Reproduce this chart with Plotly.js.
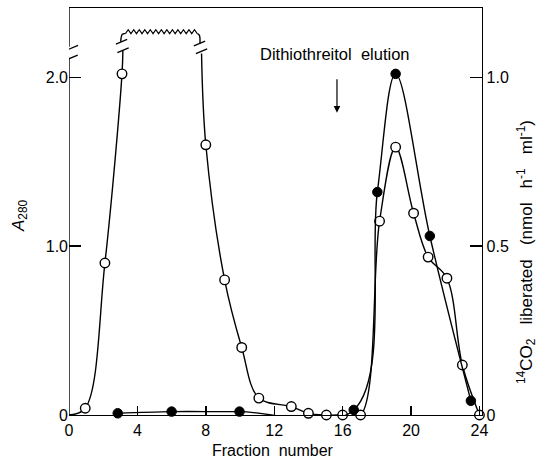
<!DOCTYPE html>
<html>
<head>
<meta charset="utf-8">
<script src="https://cdn.plot.ly/plotly-3.0.1.min.js"></script>
<style>html,body{margin:0;padding:0;background:#fff;}#chart{width:541px;height:459px;}</style>
</head>
<body>
<div id="chart"></div>
<script>
// ---- data ----
// A280 (open circles, left axis)
const fractionOpen = [0.95, 2.1, 3.1, 8.0, 9.1, 10.1, 11.1, 13.0, 14.0, 15.05, 16.0, 17.05, 18.16, 19.1, 20.15, 21.0, 22.1, 23.0, 24.0];
const a280 = [0.04, 0.9, 2.02, 1.6, 0.8, 0.4, 0.1, 0.05, 0.01, 0.0, 0.0, 0.0, 1.148, 1.586, 1.195, 0.935, 0.81, 0.296, 0.0];
// 14CO2 liberated (filled circles, right axis)
const fractionFilled = [2.85, 6.0, 9.97, 16.65, 18.03, 19.1, 21.1, 23.5];
const co2 = [0.005, 0.01, 0.01, 0.015, 0.66, 1.01, 0.53, 0.042];
// tick labels
const xTicks = [0, 4, 8, 12, 16, 20, 24];
const yLeftTicks = [0, 1, 2];
const yLeftText = ['0', '1.0', '2.0'];
const yRightTicks = [0, 0.5, 1.0];
const yRightText = ['0', '0.5', '1.0'];
// off-scale section of the A280 curve (broken axis)
const curveStart = [0, 0];            // curve leaves origin
const breakLowLeft = [3.15, 2.16];    // curve end below break (left)
const breakHighLeft = [3.02, 2.21];   // curve start above break (left)
const plateauLevel = 2.27;
const plateauFrom = 3.3, plateauTo = 7.5;
const breakHighRight = [7.66, 2.2];
const breakLowRight = [7.75, 2.14];
const teeth = 13;
const axisBreak = [2.115, 2.18];

const Y_MAX = 2.41;
const X_MAX = 24.15;
const FONT = 'Liberation Sans, Arial, sans-serif';
const LW = 1.4;

// zigzag decoration for off-scale plateau
const zzX = [], zzY = [];
for (let i = 0; i <= teeth * 2; i++) {
  zzX.push(plateauFrom + (plateauTo - plateauFrom) * i / (teeth * 2));
  zzY.push(plateauLevel + (i % 2 === 0 ? -0.012 : 0.012));
}

const iBreak = fractionOpen.indexOf(3.1);
const seg1X = [curveStart[0]].concat(fractionOpen.slice(0, iBreak + 1), [breakLowLeft[0]]);
const seg1Y = [curveStart[1]].concat(a280.slice(0, iBreak + 1), [breakLowLeft[1]]);
const seg3X = [breakLowRight[0]].concat(fractionOpen.slice(iBreak + 1));
const seg3Y = [breakLowRight[1]].concat(a280.slice(iBreak + 1));

const lineStyle = {color: '#000', width: LW, shape: 'spline', smoothing: 1};

const traces = [
  {x: seg1X, y: seg1Y, mode: 'lines', line: lineStyle, hoverinfo: 'skip'},
  {x: [breakHighLeft[0], 3.12, plateauFrom], y: [breakHighLeft[1], 2.255, zzY[0]], mode: 'lines', line: lineStyle, hoverinfo: 'skip'},
  {x: zzX, y: zzY, mode: 'lines', line: {color: '#000', width: 1.1}, hoverinfo: 'skip'},
  {x: [plateauTo, 7.62, breakHighRight[0]], y: [zzY[zzY.length - 1], 2.25, breakHighRight[1]], mode: 'lines', line: lineStyle, hoverinfo: 'skip'},
  {x: seg3X, y: seg3Y, mode: 'lines', line: lineStyle, hoverinfo: 'skip'},
  {x: fractionFilled, y: co2, yaxis: 'y2', mode: 'lines', line: lineStyle, hoverinfo: 'skip'},
  {x: fractionFilled, y: co2, yaxis: 'y2', mode: 'markers', cliponaxis: false,
   marker: {symbol: 'circle', size: 9.5, color: '#000', line: {color: '#000', width: 1}}},
  {x: fractionOpen, y: a280, mode: 'markers', cliponaxis: false,
   marker: {symbol: 'circle', size: 9.5, color: '#fff', line: {color: '#000', width: 1.4}}}
];

function slash(xc, yc) {
  return {type: 'line', xref: 'x', yref: 'y', x0: xc - 0.33, x1: xc + 0.33, y0: yc - 0.014, y1: yc + 0.014,
          line: {color: '#000', width: 1.3}};
}
const shapes = [
  {type: 'line', xref: 'x', yref: 'y', x0: 0, x1: 0, y0: 0, y1: axisBreak[0], line: {color: '#000', width: LW}},
  {type: 'line', xref: 'x', yref: 'y', x0: 0, x1: 0, y0: axisBreak[1], y1: Y_MAX, line: {color: '#000', width: LW}},
  slash(0.18, axisBreak[0] + 0.002),
  slash(0.2, axisBreak[1] - 0.005),
  slash(3.16, breakLowLeft[1]),
  slash(3.07, breakHighLeft[1]),
  slash(7.75, 2.154),
  slash(7.63, breakHighRight[1])
];

const annotations = [
  {x: 15.56, y: 2.136, xref: 'x', yref: 'y', text: 'Dithiothreitol&nbsp;&nbsp;elution', showarrow: false,
   font: {family: FONT, size: 16.5, color: '#000'}, xanchor: 'center', yanchor: 'middle'},
  {x: 15.67, y: 1.79, xref: 'x', yref: 'y', text: '', showarrow: true, ax: 0, ay: -35,
   arrowhead: 2, arrowsize: 1.1, arrowwidth: 1.2, arrowcolor: '#000'},
  {x: 11.93, y: -0.088, xref: 'x', yref: 'paper', text: 'Fraction&nbsp;&nbsp;number', showarrow: false,
   font: {family: FONT, size: 16, color: '#000'}, xanchor: 'center', yanchor: 'middle'},
  {x: -0.119, y: 0.491, xref: 'paper', yref: 'paper', text: '<i>A</i><sub>280</sub>', showarrow: false, textangle: -90,
   font: {family: FONT, size: 17, color: '#000'}, xanchor: 'center', yanchor: 'middle'},
  {x: 1.106, y: 0.40, xref: 'paper', yref: 'paper',
   text: '<sup>14</sup>CO<sub>2</sub>&nbsp;&nbsp;&nbsp;liberated&nbsp;&nbsp;&nbsp;(nmol&nbsp;&nbsp;&nbsp;h<sup>-1</sup>&nbsp;&nbsp;&nbsp;ml<sup>-1</sup>)',
   showarrow: false, textangle: -90, font: {family: FONT, size: 17, color: '#000'}, xanchor: 'center', yanchor: 'middle'}
];

const layout = {
  width: 541, height: 459,
  margin: {l: 69, r: 59, t: 8, b: 44},
  paper_bgcolor: '#fff', plot_bgcolor: '#fff',
  showlegend: false,
  font: {family: FONT, size: 16, color: '#000'},
  xaxis: {range: [0, X_MAX], tickvals: xTicks, ticktext: xTicks.map(String), ticks: 'inside', ticklen: 9, tickwidth: LW,
          tickcolor: '#000', showline: true, mirror: true, linewidth: LW, linecolor: '#000',
          showgrid: false, zeroline: false, tickfont: {family: FONT, size: 16}},
  yaxis: {range: [0, Y_MAX], tickvals: yLeftTicks, ticktext: yLeftText, ticks: 'inside', ticklen: 12, tickwidth: LW,
          tickcolor: '#000', showline: false, showgrid: false, zeroline: false, tickfont: {family: FONT, size: 16}},
  yaxis2: {range: [0, Y_MAX / 2], overlaying: 'y', side: 'right', tickvals: yRightTicks, ticktext: yRightText,
           ticks: 'inside', ticklen: 12, tickwidth: LW, tickcolor: '#000', showline: true, linewidth: LW, linecolor: '#000',
           showgrid: false, zeroline: false, tickfont: {family: FONT, size: 16}},
  shapes: shapes,
  annotations: annotations
};

Plotly.newPlot('chart', traces, layout, {displayModeBar: false, staticPlot: true});
</script>
</body>
</html>
